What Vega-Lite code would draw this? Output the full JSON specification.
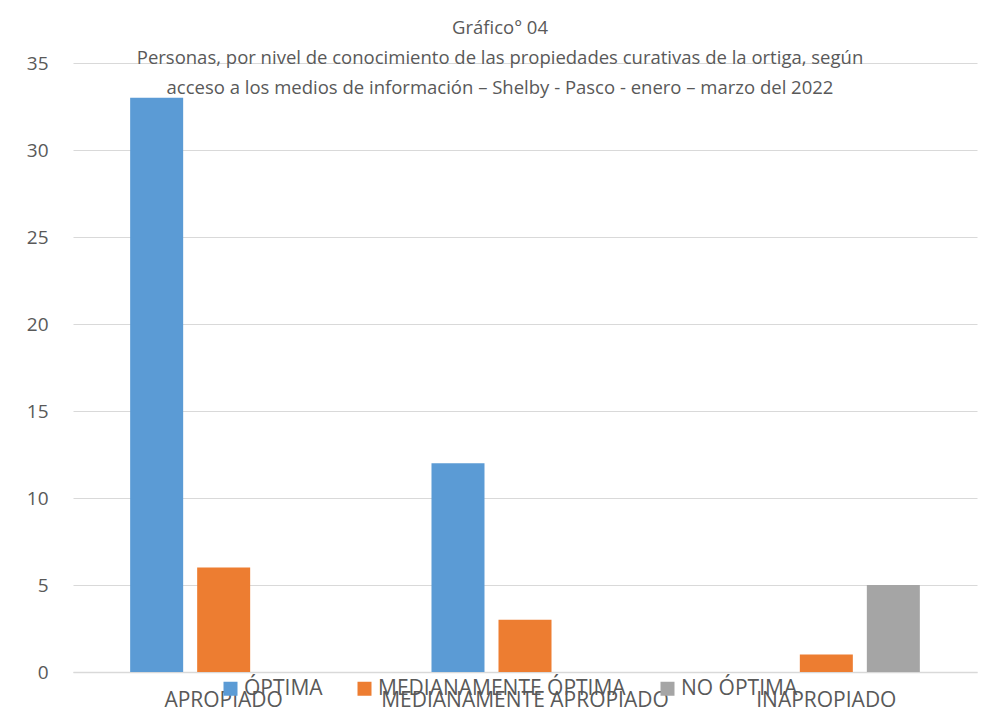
{
  "$schema": "https://vega.github.io/schema/vega-lite/v6.json",
  "width": 904,
  "height": 609,
  "autosize": {"type": "none"},
  "padding": {"left": 73, "top": 63, "right": 21, "bottom": 46},
  "background": "white",
  "title": {
    "text": ["Gráfico° 04", "Personas, por nivel de conocimiento de las propiedades curativas de la ortiga, según", "acceso a los medios de información – Shelby - Pasco - enero – marzo del 2022"],
    "font": "Open Sans",
    "fontSize": 18.5,
    "fontWeight": "normal",
    "color": "#595959",
    "lineHeight": 30,
    "anchor": "middle",
    "dx": -25,
    "offset": -43
  },
  "data": {
    "values": [
      {"acceso": "APROPIADO", "nivel": "ÓPTIMA", "n": 33},
      {"acceso": "APROPIADO", "nivel": "MEDIANAMENTE ÓPTIMA", "n": 6},
      {"acceso": "APROPIADO", "nivel": "NO ÓPTIMA", "n": 0},
      {"acceso": "MEDIANAMENTE APROPIADO", "nivel": "ÓPTIMA", "n": 12},
      {"acceso": "MEDIANAMENTE APROPIADO", "nivel": "MEDIANAMENTE ÓPTIMA", "n": 3},
      {"acceso": "MEDIANAMENTE APROPIADO", "nivel": "NO ÓPTIMA", "n": 0},
      {"acceso": "INAPROPIADO", "nivel": "ÓPTIMA", "n": 0},
      {"acceso": "INAPROPIADO", "nivel": "MEDIANAMENTE ÓPTIMA", "n": 1},
      {"acceso": "INAPROPIADO", "nivel": "NO ÓPTIMA", "n": 5}
    ]
  },
  "mark": {"type": "bar"},
  "encoding": {
    "x": {
      "field": "acceso",
      "type": "nominal",
      "sort": ["APROPIADO", "MEDIANAMENTE APROPIADO", "INAPROPIADO"],
      "scale": {"paddingInner": 0, "paddingOuter": 0},
      "axis": {
        "title": null,
        "labelAngle": 0,
        "labelLimit": 0,
        "labelOverlap": false,
        "ticks": false,
        "domainColor": "#D9D9D9",
        "domainWidth": 1.5,
        "labelFont": "Open Sans",
        "labelFontSize": 21,
        "labelColor": "#595959",
        "labelPadding": 17
      }
    },
    "xOffset": {
      "field": "nivel",
      "type": "nominal",
      "sort": ["ÓPTIMA", "MEDIANAMENTE ÓPTIMA", "NO ÓPTIMA"],
      "scale": {"paddingInner": 0.209, "paddingOuter": 0.853}
    },
    "y": {
      "field": "n",
      "type": "quantitative",
      "scale": {"domain": [0, 35]},
      "axis": {
        "title": null,
        "values": [0, 5, 10, 15, 20, 25, 30, 35],
        "grid": true,
        "gridColor": "#D9D9D9",
        "gridWidth": 1.2,
        "domain": false,
        "ticks": false,
        "labelFont": "Open Sans",
        "labelFontSize": 19,
        "labelColor": "#595959",
        "labelPadding": 25
      }
    },
    "color": {
      "field": "nivel",
      "type": "nominal",
      "sort": ["ÓPTIMA", "MEDIANAMENTE ÓPTIMA", "NO ÓPTIMA"],
      "scale": {"domain": ["ÓPTIMA", "MEDIANAMENTE ÓPTIMA", "NO ÓPTIMA"], "range": ["#5B9BD5", "#ED7D31", "#A5A5A5"]},
      "legend": {
        "title": null,
        "orient": "none",
        "legendX": 147,
        "legendY": 615,
        "direction": "horizontal",
        "symbolType": "square",
        "symbolSize": 196,
        "symbolStrokeWidth": 0,
        "labelFont": "Open Sans",
        "labelFontSize": 21,
        "labelColor": "#595959",
        "labelLimit": 0,
        "labelOffset": 3,
        "columnPadding": 31
      }
    }
  },
  "config": {"view": {"stroke": null}}
}
